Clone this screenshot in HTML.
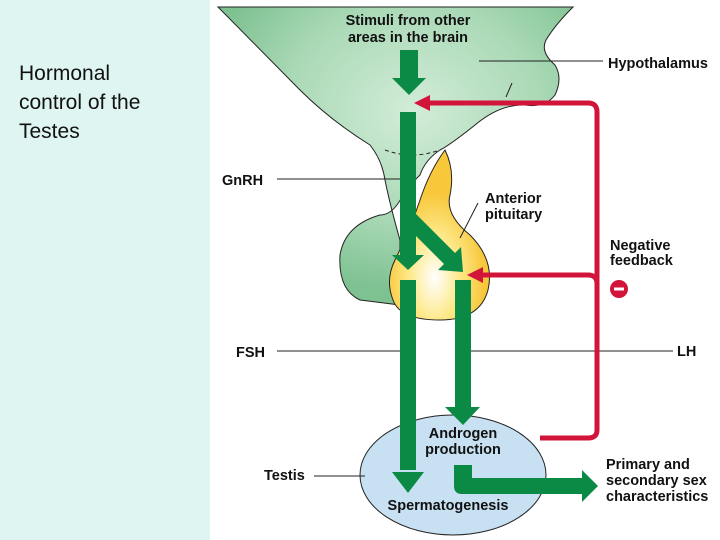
<!DOCTYPE html>
<html><head><meta charset="utf-8"><style>
body{margin:0;width:720px;height:540px;overflow:hidden;background:#fff;font-family:"Liberation Sans",sans-serif}
</style></head><body>
<svg width="720" height="540" xmlns="http://www.w3.org/2000/svg" style="position:absolute;left:0;top:0">
<defs>
<radialGradient id="hy" cx="0.55" cy="0.35" r="0.6"><stop offset="0" stop-color="#d2ecd8"/><stop offset="0.6" stop-color="#aad9b6"/><stop offset="1" stop-color="#7fc292"/></radialGradient>
<radialGradient id="py" cx="0.45" cy="0.75" r="0.5"><stop offset="0" stop-color="#ffffff"/><stop offset="0.5" stop-color="#fde98a"/><stop offset="1" stop-color="#f8c73a"/></radialGradient>
<linearGradient id="fade" x1="0" x2="1"><stop offset="0" stop-color="#e7b0b8"/><stop offset="0.5" stop-color="#d2143a"/></linearGradient>
</defs>
<rect x="0" y="0" width="210" height="540" fill="#dff5f2"/>
<text font-size="21" fill="#111"><tspan x="19" y="80">Hormonal</tspan><tspan x="19" y="109">control of the</tspan><tspan x="19" y="138">Testes</tspan></text>
<path d="M218,7 L573,7 Q555,25 546,40 Q540,52 555,65 Q563,78 555,95 Q545,108 525,105 Q500,104 475,125 Q450,145 440,150 Q425,160 420,175 L405,190 Q395,215 380,215 Q345,225 340,255 Q338,290 360,300 L400,305 L400,240 Q390,205 385,180 Q382,160 370,145 Q330,120 300,90 Z" fill="url(#hy)" stroke="#222" stroke-width="1"/>
<path d="M385,150 Q412,160 440,150" fill="none" stroke="#222" stroke-dasharray="4,3"/>
<path d="M445,150 Q455,170 450,195 Q445,215 470,235 Q495,260 488,290 Q480,320 440,320 Q400,320 393,300 Q385,280 395,260 Q410,230 420,200 Q430,170 445,150 Z" fill="url(#py)" stroke="#222" stroke-width="1"/>
<ellipse cx="453" cy="475" rx="93" ry="60" fill="#c7e0f2" stroke="#222" stroke-width="1"/>
<g stroke="#222" stroke-width="1">
<line x1="479" y1="61" x2="603" y2="61"/><line x1="512" y1="83" x2="506" y2="97"/>
<line x1="277" y1="179" x2="405" y2="179"/>
<line x1="478" y1="203" x2="460" y2="238"/>
<line x1="277" y1="351" x2="407" y2="351"/><line x1="459" y1="351" x2="673" y2="351"/>
<line x1="314" y1="476" x2="365" y2="476"/>
</g>
<g fill="none" stroke="#d2143a" stroke-width="5">
<path d="M430,103 L588,103 Q597,103 597,112 L597,430 Q597,438 588,438 L540,438"/>
<path d="M480,275 L588,275 Q597,275 597,284"/>
</g>
<line x1="515" y1="438" x2="545" y2="438" stroke="url(#fade)" stroke-width="5"/>
<polygon points="414,103 430,95 430,111" fill="#d2143a"/>
<polygon points="467,275 483,267 483,283" fill="#d2143a"/>
<circle cx="619" cy="289" r="9" fill="#d2143a"/><rect x="614" y="287.5" width="10" height="3" fill="#fff"/>
<g fill="#0a8a45">
<rect x="400" y="50" width="18" height="30"/><polygon points="392,78 426,78 409,95"/>
<rect x="400" y="112" width="16" height="145"/><polygon points="392,255 424,255 408,270"/>
<polygon points="405,225 416,214 455,253 461,247 463,272 438,270 444,264"/>
<rect x="400" y="280" width="16" height="190"/><polygon points="392,472 424,472 408,493"/>
<rect x="455" y="280" width="16" height="130"/><polygon points="445,407 480,407 463,425"/>
<path d="M454,465 L472,465 L472,478 L582,478 L582,470 L598,486 L582,502 L582,494 L462,494 Q454,494 454,486 Z"/>
</g>
<g font-weight="bold" fill="#111" font-size="14.5">
<text x="408" y="25" text-anchor="middle">Stimuli from other</text>
<text x="408" y="42" text-anchor="middle">areas in the brain</text>
<text x="608" y="68">Hypothalamus</text>
<text x="222" y="185">GnRH</text>
<text x="485" y="203">Anterior</text><text x="485" y="219">pituitary</text>
<text x="610" y="250">Negative</text><text x="610" y="265">feedback</text>
<text x="236" y="357">FSH</text><text x="677" y="356">LH</text>
<text x="463" y="438" text-anchor="middle">Androgen</text><text x="463" y="454" text-anchor="middle">production</text>
<text x="264" y="480">Testis</text>
<text x="448" y="510" text-anchor="middle">Spermatogenesis</text>
<text x="606" y="469">Primary and</text><text x="606" y="485">secondary sex</text><text x="606" y="501">characteristics</text>
</g>
</svg>
</body></html>
